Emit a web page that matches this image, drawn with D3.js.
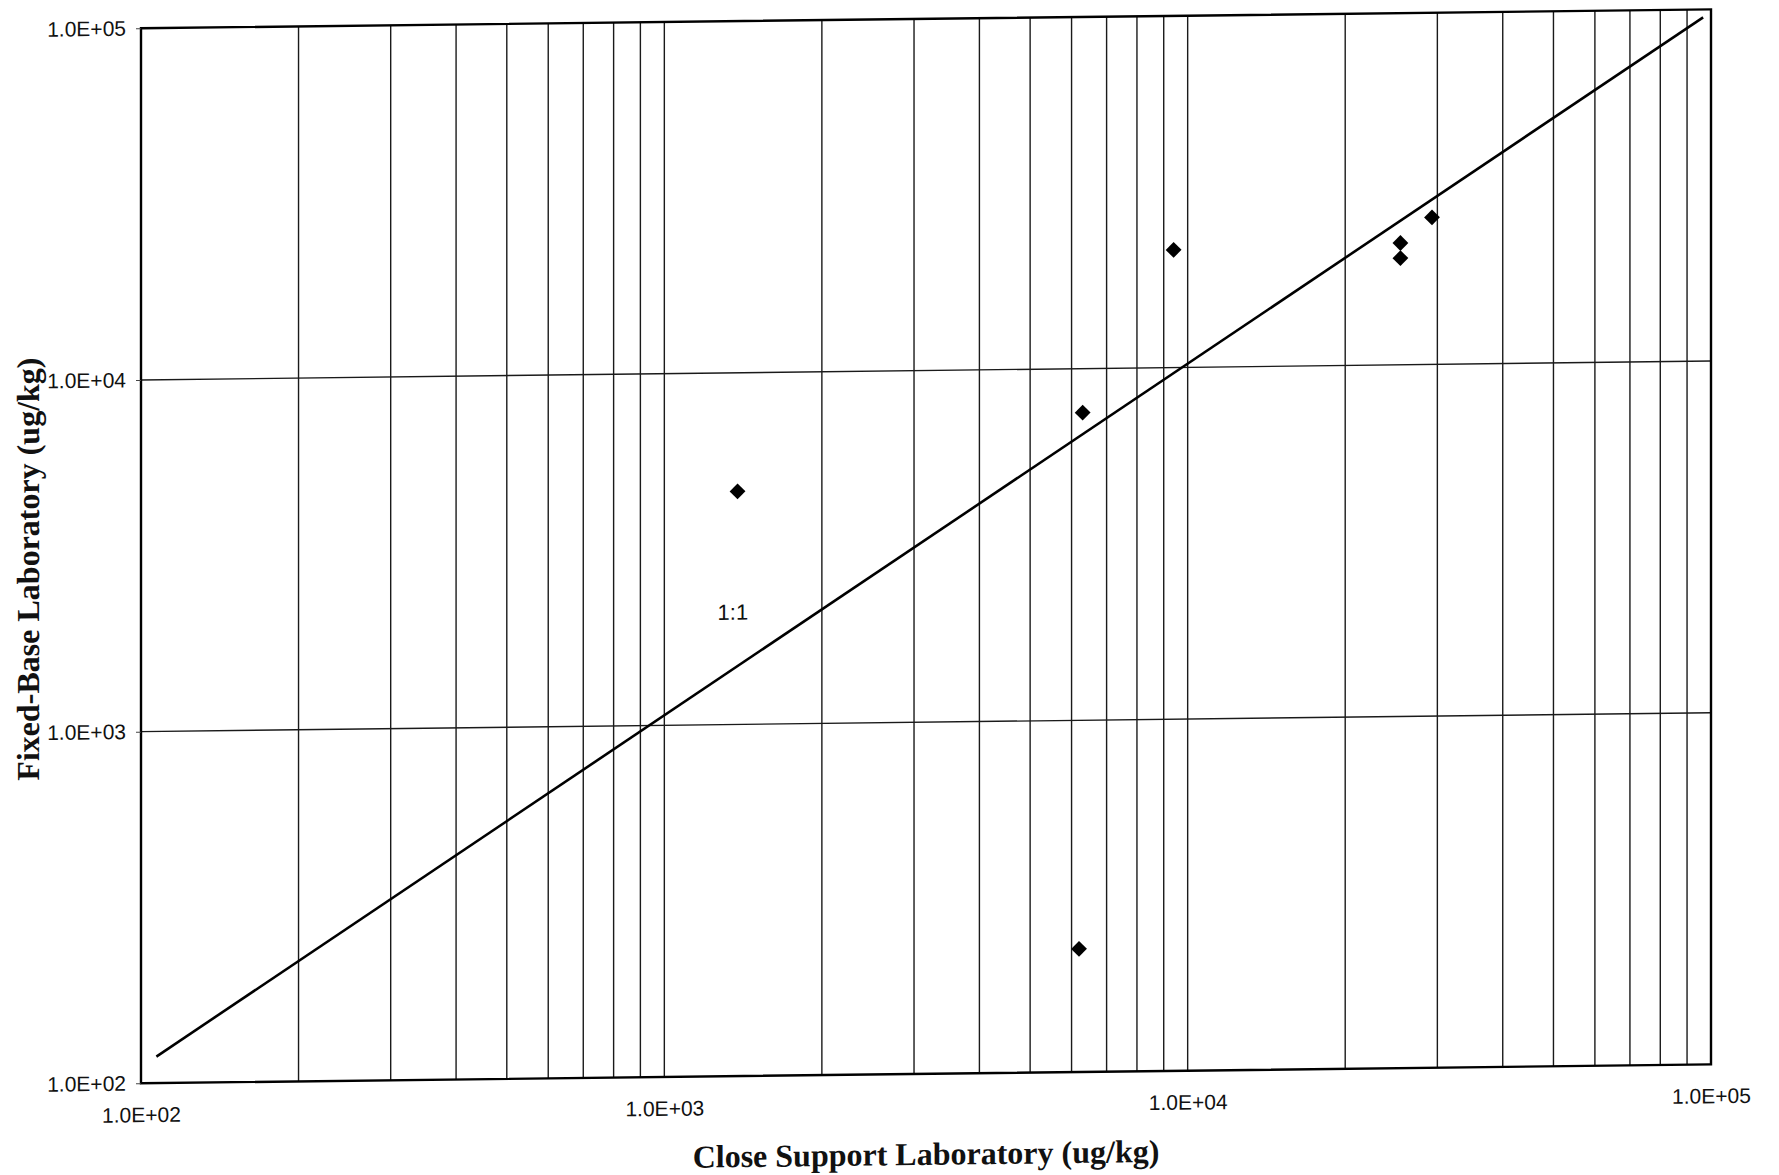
<!DOCTYPE html>
<html>
<head>
<meta charset="utf-8">
<script src="https://cdn.jsdelivr.net/npm/d3@7"></script>
<style>
  body { margin: 0; background: #fff; }
  .tick-label { font-family: "Liberation Sans", Arial, sans-serif; font-size: 21px; fill: #111; }
  .axis-title { font-family: "Liberation Serif", "Times New Roman", serif; font-size: 32px; font-weight: bold; fill: #111; }
</style>
</head>
<body>
<div class="chart"></div>
<script>
// Data
var closeSupport = [1380, 6300, 9400, 6200, 25500, 25500, 29300];
var fixedBase = [4600, 7500, 21600, 224, 22200, 20100, 26200];

// 1:1 reference line end points
var lineX = [107, 96600];
var lineY = [119, 95000];

var decadeValues = [1e2, 1e3, 1e4, 1e5];
var decadeLabels = ["1.0E+02", "1.0E+03", "1.0E+04", "1.0E+05"];

var svgWidth = 1779;
var svgHeight = 1175;

var margin = { top: 30, right: 68, bottom: 90, left: 141 };
var width = svgWidth - margin.left - margin.right;
var height = svgHeight - margin.top - margin.bottom;

var svg = d3
  .select(".chart")
  .append("svg")
  .attr("width", svgWidth)
  .attr("height", svgHeight);

// the scan is slightly tilted, so skew the whole drawing a little
var page = svg.append("g").attr("transform", "skewY(-0.69)");

var chartGroup = page
  .append("g")
  .attr("transform", `translate(${margin.left}, ${margin.top})`);

var xScale = d3.scaleLog().domain([1e2, 1e5]).range([0, width]);
var yScale = d3.scaleLog().domain([1e2, 1e5]).range([height, 0]);

// vertical grid: every 1..9 inside each decade
var xGrid = [];
for (var d = 2; d < 5; d++) {
  for (var m = 1; m < 10; m++) {
    var v = m * Math.pow(10, d);
    if (v > 1e2 && v < 1e5) xGrid.push(v);
  }
}

chartGroup
  .selectAll(".xgrid")
  .data(xGrid)
  .enter()
  .append("line")
  .classed("xgrid", true)
  .attr("x1", (d) => xScale(d))
  .attr("x2", (d) => xScale(d))
  .attr("y1", 0)
  .attr("y2", height)
  .attr("stroke", "#1a1a1a")
  .attr("stroke-width", 1.4);

// horizontal grid: decades only
chartGroup
  .selectAll(".ygrid")
  .data(decadeValues.slice(1, 3))
  .enter()
  .append("line")
  .classed("ygrid", true)
  .attr("x1", 0)
  .attr("x2", width)
  .attr("y1", (d) => yScale(d))
  .attr("y2", (d) => yScale(d))
  .attr("stroke", "#1a1a1a")
  .attr("stroke-width", 1.4);

// plot frame
chartGroup
  .append("rect")
  .attr("x", 0)
  .attr("y", 0)
  .attr("width", width)
  .attr("height", height)
  .attr("fill", "none")
  .attr("stroke", "#000")
  .attr("stroke-width", 2.4);

// y axis (small outside ticks)
var leftAxis = d3
  .axisLeft(yScale)
  .tickValues(decadeValues)
  .tickSize(5)
  .tickPadding(10)
  .tickFormat((d, i) => decadeLabels[i]);

var yAxis = chartGroup.append("g").call(leftAxis);
yAxis.select(".domain").remove();
yAxis.selectAll("line").attr("stroke", "#444");
yAxis
  .selectAll("text")
  .attr("class", "tick-label")
  .attr("font-family", null)
  .attr("font-size", null);

// x axis labels sit a bit below the frame
var bottomAxis = d3
  .axisBottom(xScale)
  .tickValues(decadeValues)
  .tickSize(0)
  .tickPadding(24)
  .tickFormat((d, i) => decadeLabels[i]);

var xAxis = chartGroup
  .append("g")
  .attr("transform", `translate(0, ${height})`)
  .call(bottomAxis);
xAxis.select(".domain").remove();
xAxis
  .selectAll("text")
  .attr("class", "tick-label")
  .attr("font-family", null)
  .attr("font-size", null);

// 1:1 line
var lineData = lineX.map((x, i) => [x, lineY[i]]);
chartGroup
  .append("path")
  .datum(lineData)
  .attr("fill", "none")
  .attr("stroke", "#000")
  .attr("stroke-width", 2.6)
  .attr(
    "d",
    d3
      .line()
      .x((d) => xScale(d[0]))
      .y((d) => yScale(d[1]))
  );

chartGroup
  .append("text")
  .attr("x", xScale(1352))
  .attr("y", yScale(2088))
  .attr("dy", "0.35em")
  .attr("text-anchor", "middle")
  .attr("font-family", "Liberation Sans, Arial, sans-serif")
  .attr("font-size", 22)
  .attr("fill", "#111")
  .text("1:1");

// data points as diamonds
var points = closeSupport.map((x, i) => ({ x: x, y: fixedBase[i] }));
var diamond = d3.symbol().type(d3.symbolSquare).size(125);

chartGroup
  .selectAll(".pt")
  .data(points)
  .enter()
  .append("path")
  .classed("pt", true)
  .attr("d", diamond)
  .attr("transform", (d) => `translate(${xScale(d.x)}, ${yScale(d.y)}) rotate(45)`)
  .attr("fill", "#000");

// axis titles
chartGroup
  .append("text")
  .attr("class", "axis-title")
  .attr("x", width / 2)
  .attr("y", height + 91)
  .attr("text-anchor", "middle")
  .text("Close Support Laboratory (ug/kg)");

chartGroup
  .append("text")
  .attr("class", "axis-title")
  .attr("transform", `translate(${-margin.left + 39}, ${height / 2 + 12}) rotate(-90)`)
  .attr("text-anchor", "middle")
  .text("Fixed-Base Laboratory (ug/kg)");
</script>
</body>
</html>
